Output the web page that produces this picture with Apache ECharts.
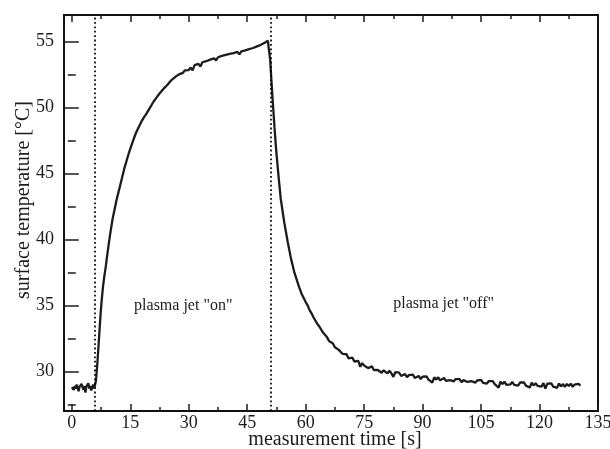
<!DOCTYPE html>
<html><head><meta charset="utf-8">
<script src="https://cdn.jsdelivr.net/npm/echarts@6/dist/echarts.min.js"></script>
<style>html,body{margin:0;padding:0;background:#fff}#c{width:610px;height:449px}</style>
</head><body><div id="c"></div>
<script>
// ---- data ----
const xMajorTicks = [0, 15, 30, 45, 60, 75, 90, 105, 120, 135];
const xMinorTicks = [7.5, 22.5, 37.5, 52.5, 67.5, 82.5, 97.5, 112.5, 127.5];
const yMajorTicks = [30, 35, 40, 45, 50, 55];
const yMinorTicks = [27.5, 32.5, 37.5, 42.5, 47.5, 52.5];
const switchTimes = [6.0, 51.1];               // plasma jet switched on / off [s]
const annotationTexts = ['plasma jet "on"', 'plasma jet "off"'];
const annotationAt = [[28.6, 35.0], [95.4, 35.15]];

// [time s, temperature °C]
const baselinePhase = [
  [0,28.8],[0.25,28.95],[0.5,28.6],[0.75,28.9],[1,28.7],[1.25,29.0],[1.5,28.75],[1.75,28.5],
  [2,28.85],[2.25,28.7],[2.5,29.05],[2.75,28.8],[3,28.6],[3.25,28.9],[3.5,28.4],[3.75,28.85],
  [4,28.75],[4.25,29.1],[4.5,28.7],[4.75,28.9],[5,28.55],[5.25,28.8],[5.5,29.0],[5.75,28.7]
];
const heatingPhase = [
  [6.0,28.8],[6.2,29.3],[6.4,30.0],[6.6,30.8],[6.8,31.7],[7.0,32.6],[7.2,33.5],[7.4,34.4],
  [7.7,35.5],[8.0,36.4],[8.3,37.1],[8.7,37.9],[9.0,38.6],[9.5,39.7],[10.0,40.7],[10.5,41.6],
  [11.0,42.3],[11.5,43.0],[12.0,43.6],[12.5,44.2],[13.0,44.8],[13.5,45.4],[14.0,45.9],[14.7,46.6],
  [15.5,47.3],[16.0,47.7],[16.5,48.1],[17.0,48.4],[17.5,48.7],[18.0,49.0],[18.5,49.25],[19.0,49.45],
  [19.4,49.6],[20.0,49.95],[20.5,50.2],[21.0,50.45],[21.5,50.65],[22.0,50.85],[22.5,51.05],[23.0,51.2],
  [23.5,51.4],[24.0,51.55],[24.5,51.7],[25.0,51.85],
  [25.5,52.05],[26.0,51.98],[26.5,52.3],[27.0,52.28],[27.5,52.5],[28.0,52.38],[28.5,52.62],[29.0,52.8],
  [29.5,52.7],[30.0,52.82],[30.5,53.02],[31.0,52.8],[31.5,53.2],[32.0,53.12],[32.5,53.3],[33.0,53.1],
  [33.5,53.42],[34.0,53.35],[34.5,53.5],[35.0,53.38],[35.5,53.62],[36.0,53.55],[36.5,53.72],[37.0,53.55],
  [37.5,53.8],[38.0,53.74],[38.5,53.9],[39.0,53.78],[39.5,53.98],[40.0,53.88],[40.5,54.06],[41.0,53.94],
  [41.5,54.12],[42.0,54.04],[42.5,54.2],[43.0,54.02],[43.5,54.24],[44.0,54.15],[44.5,54.32],[45.0,54.22],
  [45.5,54.42],[46.0,54.3],[46.5,54.5],[47.0,54.42],[47.5,54.62],[48.0,54.55],[48.5,54.74],[49.0,54.68],
  [49.5,54.9],[50.0,54.84],[50.3,55.05],[50.6,55.12]
];
const coolingPhase = [
  [50.9,53.6],[51.2,52.1],[51.5,50.7],[52.0,48.5],[52.4,46.9],[53.0,44.9],[53.6,43.1],[54.5,41.3],
  [55.4,39.8],[56.2,38.6],[57.1,37.5],[58.3,36.4],[59.0,35.85],[59.6,35.5],[60.0,35.25],[60.5,35.0],
  [61.0,34.65],[61.5,34.4],[62.0,34.1],[62.5,33.85],[63.0,33.6],[63.5,33.4],
  [64.0,33.25],[64.5,32.92],[65.0,32.9],[65.5,32.58],[66.0,32.3],[66.5,32.33],[67.0,32.12],[67.5,31.83],
  [68.0,31.9],[68.5,31.63],[69.0,31.67],[69.5,31.32],[70.0,31.33],[70.5,31.3],[71.0,30.98],[71.5,31.05],
  [72.0,31.04],[72.5,30.75],[73.0,30.73],[73.5,30.8],[74.0,30.35],[74.5,30.63],[75.0,30.44],[75.5,30.54],
  [76.0,30.25],[76.5,30.32],[77.0,30.38],[77.5,30.1],[78.0,30.25],[78.5,30.11],[79.0,30.22],[79.5,29.9],
  [80.0,30.08],[80.5,30.0],[81.0,29.85],[81.5,30.05],[82.0,29.85],[82.5,29.59],[83.0,29.94],[83.5,29.79],
  [84.0,29.9],[84.5,29.65],[85.0,29.77],[85.5,29.8],[86.0,29.56],[86.5,29.72],[87.0,29.59],[87.5,29.75],
  [88.0,29.5],[88.5,29.6],[89.0,29.66],[89.5,29.42],[90.0,29.6],[90.5,29.48],[91.0,29.62],[91.5,29.38],
  [92.0,29.5],[92.5,29.16],[93.0,29.55],[93.5,29.38],[94.0,29.55],[94.5,29.32],[95.0,29.43],[95.5,29.5],
  [96.0,29.28],[96.5,29.43],[97.0,29.34],[97.5,29.48],[98.0,29.25],[98.5,29.42],[99.0,29.28],[99.5,29.42],
  [100.0,29.18],[100.5,29.34],[101.0,29.42],[101.5,29.2],[102.0,29.35],[102.5,29.27],[103.0,29.4],[103.5,29.15],
  [104.0,29.31],[104.5,29.19],[105.0,29.35],[105.5,29.13],[106.0,29.22],[106.5,29.07],[107.0,29.27],[107.5,29.12],
  [108.0,29.27],[108.5,29.04],[109.0,29.18],[109.5,28.77],[110.0,29.22],[110.5,29.05],[111.0,29.22],[111.5,28.98],
  [112.0,29.13],[112.5,29.01],[113.0,29.2],[113.5,28.98],[114.0,29.13],[114.5,28.92],[115.0,29.16],[115.5,29.02],
  [116.0,29.17],[116.5,28.92],[117.0,29.07],[117.5,28.78],[118.0,29.14],[118.5,28.94],[119.0,29.11],[119.5,28.9],
  [120.0,29.05],[120.5,28.85],[121.0,29.11],[121.5,28.7],[122.0,29.08],[122.5,28.93],[123.0,29.1],[123.5,28.85],
  [124.0,28.99],[124.5,28.75],[125.0,29.08],[125.5,28.86],[126.0,29.04],[126.5,28.82],[127.0,29.05],[127.5,28.89],
  [128.0,29.07],[128.5,28.83],[129.0,29.0],[129.5,28.85],[130.0,29.05],[130.5,28.93]
];

// ---- chart ----
const xMin = -2, xMax = 135, yMin = 27, yMax = 57;
const FONT = '"Liberation Serif", "DejaVu Serif", serif';
const ink = '#1c1c1c';
const measurement = baselinePhase.concat(heatingPhase, coolingPhase);

function xAxisDef(pos, ticks, len, withLabels) {
  const a = {
    type: 'value', min: xMin, max: xMax, position: pos, gridIndex: 0,
    axisLine: { show: false }, splitLine: { show: false },
    axisTick: { show: true, inside: true, length: len, customValues: ticks, lineStyle: { color: ink, width: 1.5 } },
    axisLabel: { show: false }
  };
  if (withLabels) {
    a.axisLabel = { show: true, customValues: xMajorTicks, margin: 3, color: ink, fontFamily: FONT, fontSize: 18 };
    a.name = 'measurement time [s]';
    a.nameLocation = 'middle';
    a.nameGap = 19;
    a.nameMoveOverlap = false;
    a.nameTextStyle = { color: ink, fontFamily: FONT, fontSize: 20, padding: [0, 0, 0, 8] };
  }
  return a;
}
function yAxisDef(pos, ticks, len, withLabels) {
  const a = {
    type: 'value', min: yMin, max: yMax, position: pos, gridIndex: 0,
    axisLine: { show: false }, splitLine: { show: false },
    axisTick: { show: true, inside: true, length: len, customValues: ticks, lineStyle: { color: ink, width: 1.5 } },
    axisLabel: { show: false }
  };
  if (withLabels) {
    a.axisLabel = { show: true, customValues: yMajorTicks, margin: 10, color: ink, fontFamily: FONT, fontSize: 18 };
    a.name = 'surface temperature [°C]';
    a.nameLocation = 'middle';
    a.nameGap = 30;
    a.nameMoveOverlap = false;
    a.nameTextStyle = { color: ink, fontFamily: FONT, fontSize: 20, padding: [0, 0, 0, 26] };
  }
  return a;
}

const chart = echarts.init(document.getElementById('c'), null, { renderer: 'canvas' });
chart.setOption({
  animation: false,
  backgroundColor: '#fff',
  grid: {
    left: 64, right: 12, top: 15, bottom: 38, containLabel: false, outerBoundsMode: 'none',
    show: true, borderColor: '#111', borderWidth: 2, backgroundColor: 'transparent'
  },
  xAxis: [
    xAxisDef('bottom', xMajorTicks, 7, true),
    xAxisDef('bottom', xMinorTicks, 4, false),
    xAxisDef('top', xMajorTicks, 7, false),
    xAxisDef('top', xMinorTicks, 4, false)
  ],
  yAxis: [
    yAxisDef('left', yMajorTicks, 7, true),
    yAxisDef('left', yMinorTicks, 4, false),
    yAxisDef('right', yMajorTicks, 7, false),
    yAxisDef('right', yMinorTicks, 4, false)
  ],
  series: [{
    type: 'line',
    xAxisIndex: 0, yAxisIndex: 0,
    data: measurement,
    showSymbol: false,
    symbol: 'none',
    lineStyle: { color: ink, width: 2.3 },
    silent: true,
    markLine: {
      silent: true, symbol: 'none', label: { show: false },
      lineStyle: { color: '#000', width: 1.7, type: [1.8, 2.6] },
      data: switchTimes.map(t => ({ xAxis: t }))
    },
    markPoint: {
      silent: true, symbol: 'circle', symbolSize: 0,
      label: { show: true, position: 'inside', formatter: '{b}', color: ink, fontFamily: FONT, fontSize: 16 },
      data: annotationTexts.map((s, i) => ({ name: s, coord: annotationAt[i] }))
    }
  }]
});
</script></body></html>
